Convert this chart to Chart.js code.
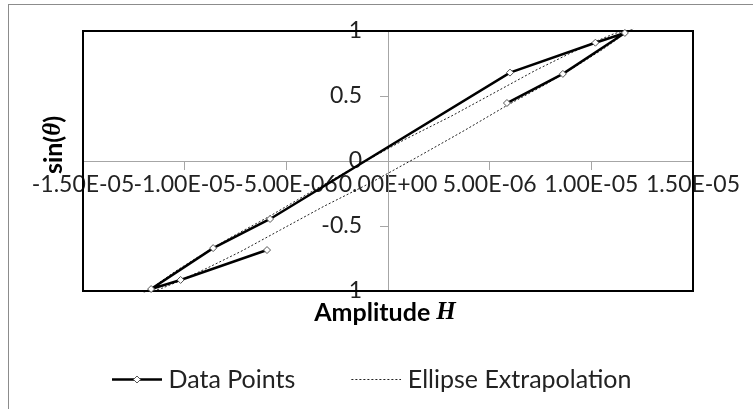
<!DOCTYPE html>
<html>
<head>
<meta charset="utf-8">
<script src="https://cdn.jsdelivr.net/npm/chart.js@4.4.0/dist/chart.umd.min.js"></script>
<style>
  html, body { margin: 0; padding: 0; background: #fff; overflow: hidden; }
  #frame { position: absolute; left: 8px; top: 4px; width: 800px; height: 460px; border: 1px solid #8c8c8c; }
  #chart { position: absolute; left: 0; top: 0; }
</style>
</head>
<body>
<div id="frame"></div>
<canvas id="chart" width="753" height="409"></canvas>
<script>
const xTicks = [-1.5e-5, -1.0e-5, -5.0e-6, 0, 5.0e-6, 1.0e-5, 1.5e-5];
const xTickLabels = ["-1.50E-05", "-1.00E-05", "-5.00E-06", "0.00E+00", "5.00E-06", "1.00E-05", "1.50E-05"];
const yTicks = [-1, -0.5, 0, 0.5, 1];
const yTickLabels = ["-1", "-0.5", "0", "0.5", "1"];

// measured points (amplitude H, sin theta)
const dataH = [5.85e-6, 8.6e-6, 1.165e-5, 1.02e-5, 6.0e-6, -5.8e-6, -8.6e-6, -1.165e-5, -1.02e-5, -5.95e-6];
const dataSin = [0.446, 0.67, 0.985, 0.91, 0.68, -0.446, -0.67, -0.985, -0.915, -0.685];

// dotted ellipse
const ellipseH = [
  1.165e-5, 1.159e-5, 1.113e-5, 1.023e-5, 8.91e-6, 7.25e-6, 5.29e-6, 3.11e-6, 8.2e-7,
  -1.5e-6, -3.76e-6, -5.88e-6, -7.76e-6, -9.33e-6, -1.053e-5, -1.131e-5, -1.165e-5,
  -1.159e-5, -1.113e-5, -1.023e-5, -8.91e-6, -7.25e-6, -5.29e-6, -3.11e-6, -8.2e-7,
  1.5e-6, 3.76e-6, 5.88e-6, 7.76e-6, 9.33e-6, 1.053e-5, 1.131e-5, 1.165e-5
];
const ellipseSin = [
  0.995, 1.0, 0.98, 0.921, 0.825, 0.697, 0.53, 0.345, 0.165,
  -0.035, -0.235, -0.43, -0.59, -0.737, -0.856, -0.942, -0.995,
  -1.0, -0.98, -0.921, -0.825, -0.697, -0.53, -0.345, -0.165,
  0.035, 0.235, 0.43, 0.59, 0.737, 0.856, 0.942, 0.995
];

const FONT = "Lato";

function legendIcon(dotted) {
  const c = document.createElement("canvas");
  c.width = 107;
  c.height = 13;
  const g = c.getContext("2d");
  g.beginPath();
  g.moveTo(57, 6.5);
  g.lineTo(107, 6.5);
  if (dotted) {
    g.setLineDash([2, 2]);
    g.lineWidth = 1;
    g.strokeStyle = "#222";
  } else {
    g.lineWidth = 2.5;
    g.strokeStyle = "#000";
  }
  g.stroke();
  if (!dotted) {
    g.setLineDash([]);
    g.beginPath();
    g.moveTo(82, 3);
    g.lineTo(85.5, 6.5);
    g.lineTo(82, 10);
    g.lineTo(78.5, 6.5);
    g.closePath();
    g.fillStyle = "#fff";
    g.fill();
    g.lineWidth = 1;
    g.strokeStyle = "#555";
    g.stroke();
  }
  return c;
}
const icons = [legendIcon(false), legendIcon(true)];

function fixSize(w, h) {
  return function(s) {
    if (w !== null) s.width = w;
    if (h !== null) s.height = h;
    s.paddingLeft = s.paddingRight = s.paddingTop = s.paddingBottom = 0;
  };
}

function spacer(axis, pos, w, h) {
  return {
    type: "linear", axis: axis, position: pos, min: 0, max: 1, display: true,
    ticks: { display: false }, grid: { display: false }, border: { display: false },
    afterFit: fixSize(w, h)
  };
}

function drawMixed(ctx, parts, cx, cy) {
  let total = 0;
  parts.forEach(p => { ctx.font = p.font; p.w = ctx.measureText(p.text).width; total += p.w; });
  let x = cx - total / 2;
  ctx.textAlign = "left";
  ctx.textBaseline = "middle";
  ctx.fillStyle = "#000";
  parts.forEach(p => { ctx.font = p.font; ctx.fillText(p.text, x, cy); x += p.w; });
}

const extras = {
  id: "extras",
  beforeDatasetsDraw(chart) {
    const a = chart.chartArea;
    const ctx = chart.ctx;
    ctx.save();
    ctx.strokeStyle = "#000";
    ctx.lineWidth = 2;
    ctx.strokeRect(a.left, a.top, a.right - a.left, a.bottom - a.top);
    ctx.restore();
  },
  afterDraw(chart) {
    const a = chart.chartArea;
    const ctx = chart.ctx;
    const bold = "bold 25px " + FONT;
    const math = "italic bold 25px 'Liberation Serif'";
    ctx.save();
    drawMixed(ctx, [{ text: "Amplitude ", font: bold }, { text: "H", font: math }],
      (a.left + a.right) / 2 - 3, a.bottom + 22);
    ctx.translate(54, 145);
    ctx.rotate(-Math.PI / 2);
    drawMixed(ctx, [{ text: "sin(", font: bold }, { text: "θ", font: math }, { text: ")", font: bold }], 0, 0);
    ctx.restore();
  }
};

const ctx = document.getElementById("chart").getContext("2d");
const chart = new Chart(ctx, {
  type: "scatter",
  data: {
    datasets: [
      {
        label: "Data Points",
        data: dataH.map((h, i) => ({ x: h, y: dataSin[i] })),
        showLine: true,
        borderColor: "#000",
        borderWidth: 2.5,
        pointStyle: "rectRot",
        pointRadius: 3.5,
        pointBackgroundColor: "#fff",
        pointBorderColor: "#555",
        pointBorderWidth: 1,
        tension: 0,
        clip: false
      },
      {
        label: "Ellipse Extrapolation",
        data: ellipseH.map((h, i) => ({ x: h, y: ellipseSin[i] })),
        showLine: true,
        borderColor: "#222",
        borderWidth: 1,
        borderDash: [2, 2],
        pointRadius: 0,
        tension: 0,
        clip: false
      }
    ]
  },
  options: {
    responsive: false,
    animation: false,
    events: [],
    layout: { padding: { left: 56, right: 0, top: 0, bottom: 7 } },
    plugins: {
      tooltip: { enabled: false },
      legend: {
        position: "bottom",
        align: "start",
        labels: {
          usePointStyle: true,
          pointStyleWidth: 95,
          padding: 5,
          color: "#222",
          font: { family: FONT, size: 25 },
          generateLabels: c => c.data.datasets.map((ds, i) => ({
            text: ds.label,
            pointStyle: icons[i],
            datasetIndex: i,
            fontColor: "#222",
            lineWidth: 0,
            hidden: false
          }))
        }
      }
    },
    scales: {
      x: {
        type: "linear",
        position: "center",
        min: -1.5e-5,
        max: 1.5e-5,
        afterBuildTicks: s => { s.ticks = xTicks.map(v => ({ value: v })); },
        afterFit: fixSize(null, 0),
        grid: { drawOnChartArea: false, drawTicks: true, tickLength: 8, color: "#a6a6a6" },
        border: { display: true, color: "#a6a6a6", width: 1 },
        ticks: {
          autoSkip: false, maxRotation: 0, minRotation: 0, padding: 2,
          color: "#222", font: { family: FONT, size: 23 },
          callback: (v, i) => xTickLabels[i]
        }
      },
      y: {
        type: "linear",
        position: "center",
        min: -1,
        max: 1,
        afterBuildTicks: s => { s.ticks = yTicks.map(v => ({ value: v })); },
        afterFit: fixSize(0, null),
        grid: { drawOnChartArea: false, drawTicks: true, tickLength: 8, color: "#a6a6a6" },
        border: { display: true, color: "#a6a6a6", width: 1 },
        ticks: {
          autoSkip: false, padding: 18,
          color: "#222", font: { family: FONT, size: 23 },
          callback: (v, i) => yTickLabels[i]
        }
      },
      xTop: spacer("x", "top", null, 31),
      xBottom: spacer("x", "bottom", null, 71),
      yLeft: spacer("y", "left", 27, null),
      yRight: spacer("y", "right", 60, null)
    }
  },
  plugins: [extras]
});
</script>
</body>
</html>
